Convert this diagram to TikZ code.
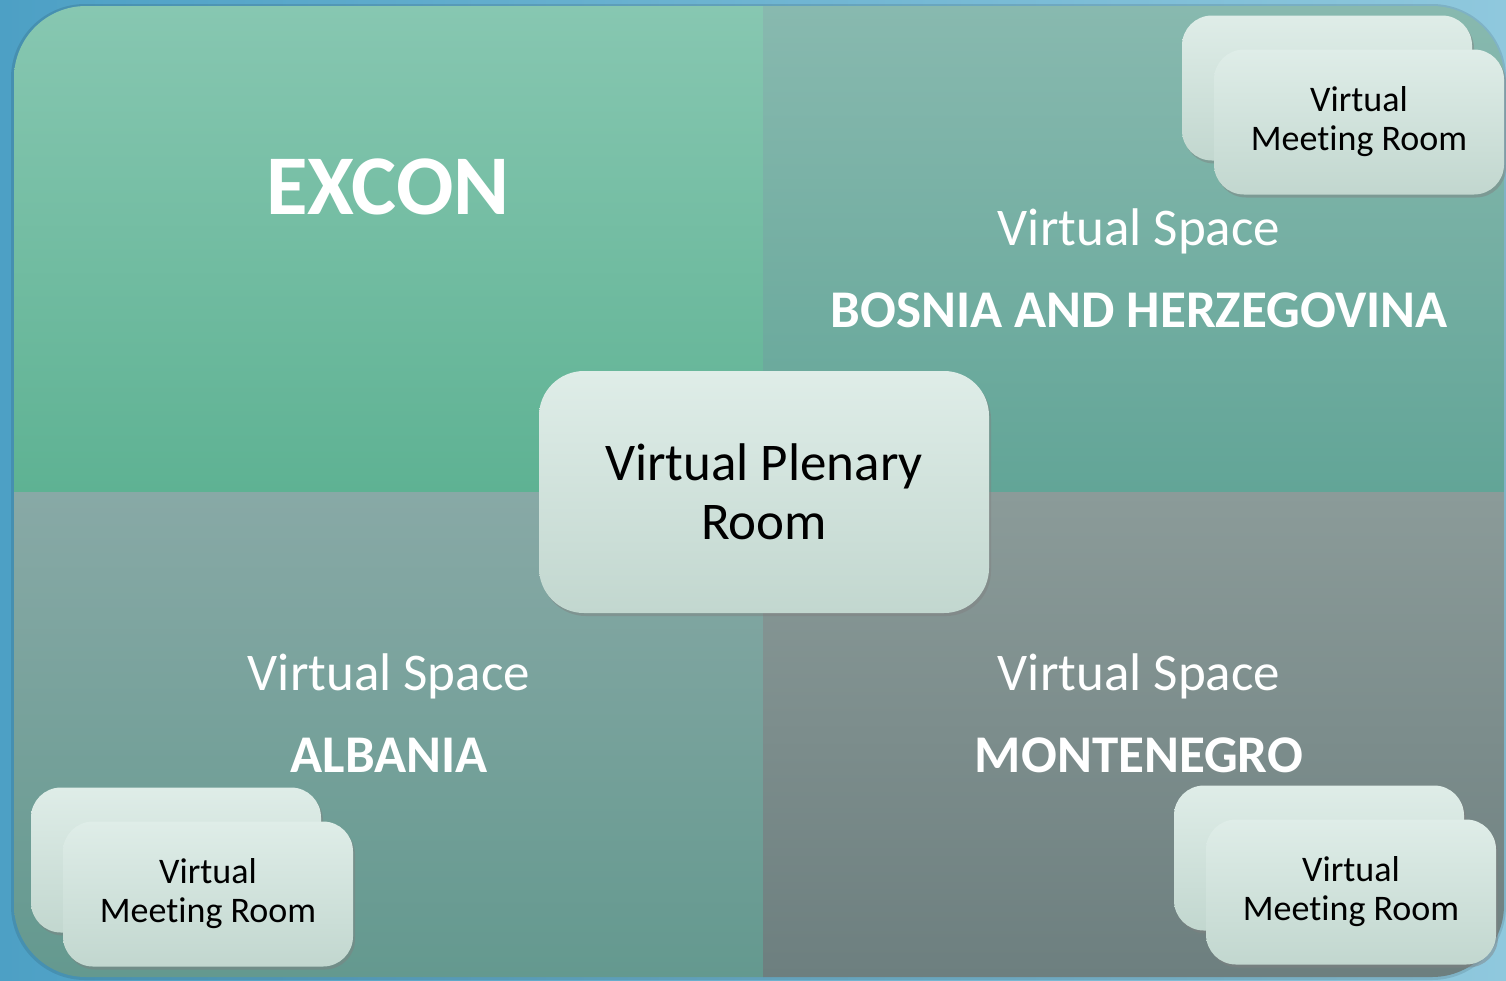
\documentclass[tikz,border=0pt]{standalone}
\usepackage{fontspec}
\setmainfont{Carlito}[Ligatures=NoCommon]
\usetikzlibrary{shadows}

\definecolor{bgleft}{HTML}{4DA0C5}
\definecolor{bgright}{HTML}{8FC8DD}
\definecolor{tltop}{HTML}{87C7B1}
\definecolor{tlbot}{HTML}{5EB293}
\definecolor{trtop}{HTML}{88B9AF}
\definecolor{trbot}{HTML}{62A597}
\definecolor{bltop}{HTML}{88A9A6}
\definecolor{blbot}{HTML}{64998F}
\definecolor{brtop}{HTML}{8B9B99}
\definecolor{brbot}{HTML}{6D7F7F}
\definecolor{boxtop}{HTML}{DFEDE8}
\definecolor{boxbot}{HTML}{C2D7CF}

\begin{document}
\begin{tikzpicture}[x=1pt,y=-1pt,
    roombox/.style={rounded corners=30pt,minimum width=290pt,minimum height=145pt,
      top color=boxtop,bottom color=boxbot,align=center,text=black,
      drop shadow={shadow xshift=2pt,shadow yshift=-3pt,opacity=.45},
      font=\fontsize{36}{39}\selectfont},
    spacetext/.style={text=white,anchor=base,font=\fontsize{53}{60}\selectfont},
    landtext/.style={text=white,anchor=base,font=\bfseries\fontsize{53}{60}\selectfont}]
  \useasboundingbox (0,0) rectangle (1506,980);
  \shade[left color=bgleft,right color=bgright] (0,0) rectangle (1506,980);
  % panel shadow
  \fill[black,opacity=.1,rounded corners=74pt] (11,4) rectangle (1506,980);
  \begin{scope}
    \clip[rounded corners=72pt] (14,6) rectangle (1504,977);
    \shade[top color=tltop,bottom color=tlbot] (14,6) rectangle (763,492);
    \shade[top color=trtop,bottom color=trbot] (763,6) rectangle (1504,492);
    \shade[top color=bltop,bottom color=blbot] (14,492) rectangle (763,977);
    \shade[top color=brtop,bottom color=brbot] (763,492) rectangle (1504,977);
  \end{scope}

  \node[text=white,anchor=base,font=\bfseries\fontsize{85}{96}\selectfont] (excon) at (388,214) {EXCON};

  \node[spacetext] (bhSpace) at (1139,245) {Virtual Space};
  \node[landtext] (bhName) at (1139,327) {BOSNIA AND HERZEGOVINA};
  \node[spacetext] (alSpace) at (389,690) {Virtual Space};
  \node[landtext] (alName) at (389,772) {ALBANIA};
  \node[spacetext] (meSpace) at (1139,690) {Virtual Space};
  \node[landtext] (meName) at (1139,772) {MONTENEGRO};

  \node[roombox] (bhRoomB) at (1327,88) {};
  \node[roombox] (bhRoom) at (1359,122) {Virtual\\Meeting Room};
  \node[roombox] (alRoomB) at (176,860) {};
  \node[roombox] (alRoom) at (208,894) {Virtual\\Meeting Room};
  \node[roombox] (meRoomB) at (1319,858) {};
  \node[roombox] (meRoom) at (1351,892) {Virtual\\Meeting Room};

  \node[roombox,minimum width=450pt,minimum height=242pt,rounded corners=45pt,
    font=\fontsize{53}{59}\selectfont] (plenary) at (764,492) {Virtual Plenary\\Room};
\end{tikzpicture}
\end{document}
